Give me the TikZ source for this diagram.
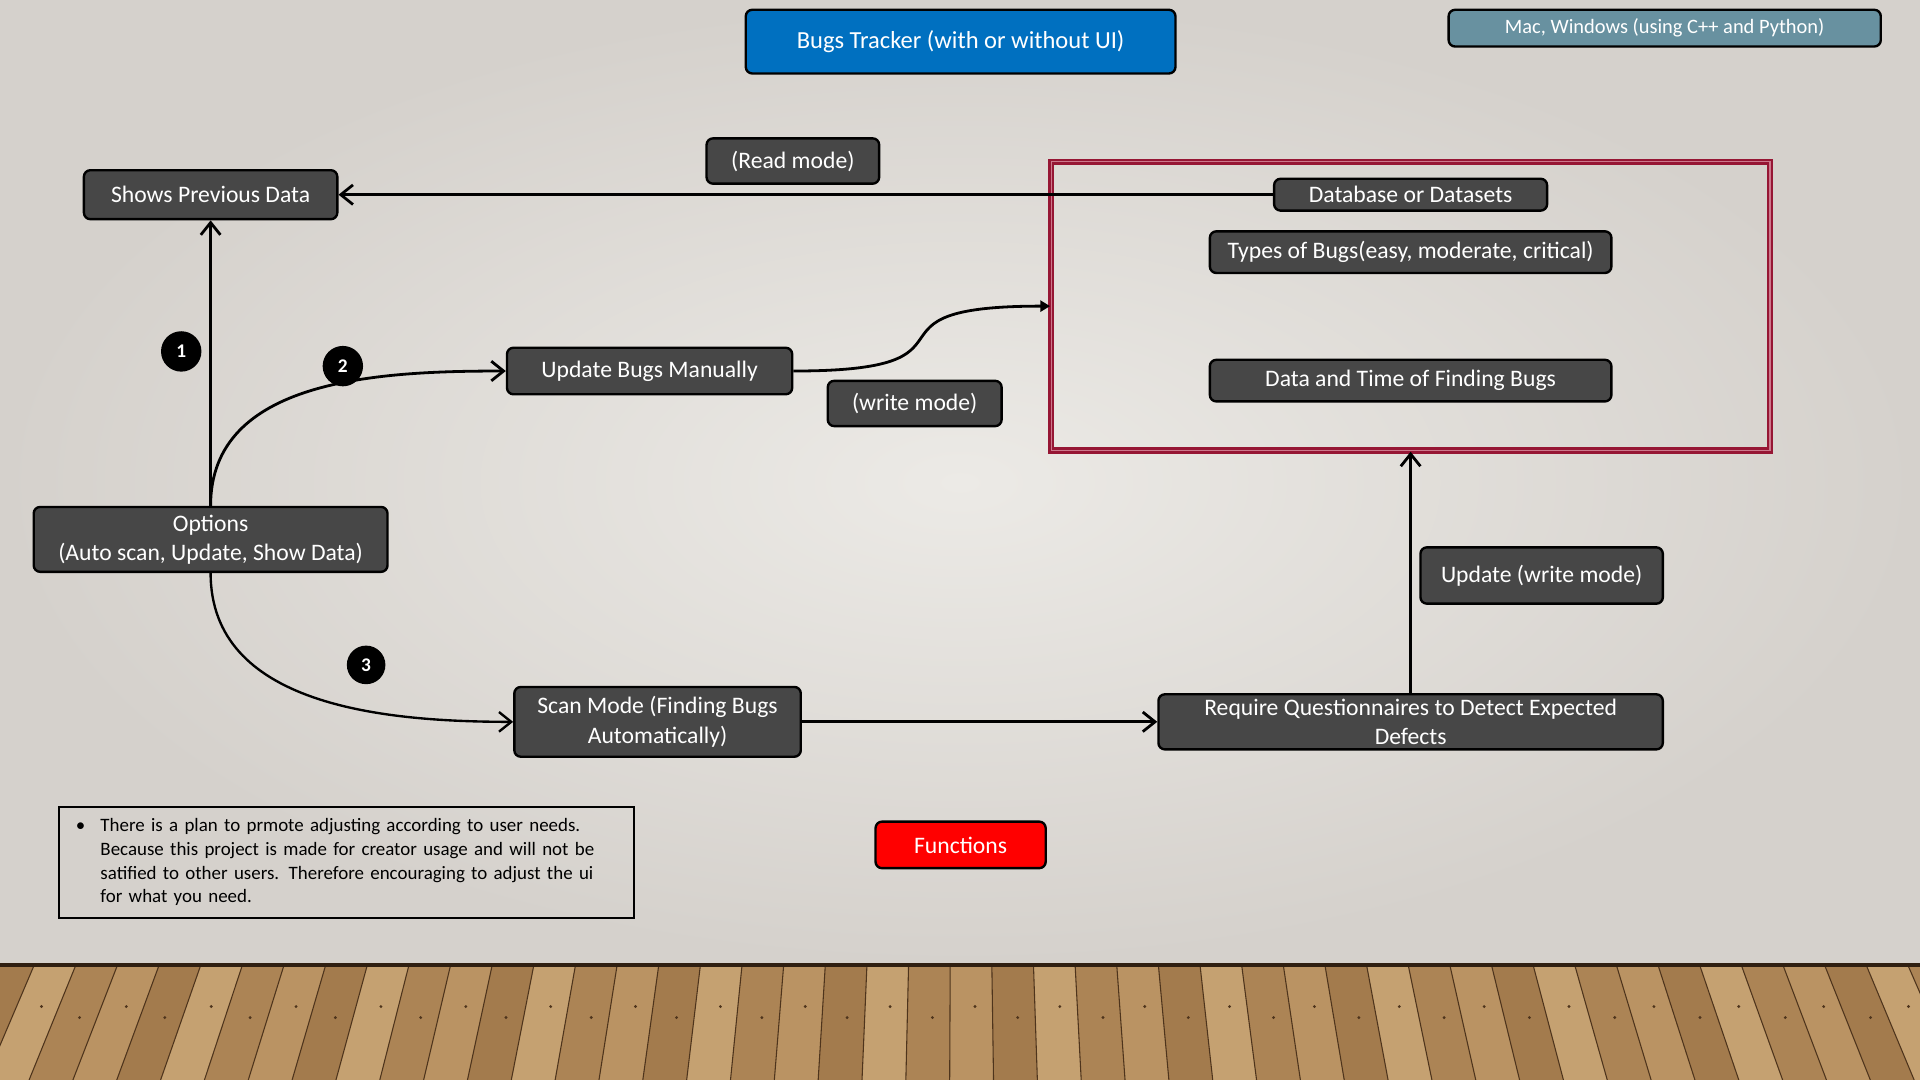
\documentclass[tikz,border=0pt]{standalone}
\usepackage{fontspec}
\setmainfont{Carlito}
\usetikzlibrary{shapes,arrows.meta,positioning}

\definecolor{boxgray}{RGB}{71,71,71}
\definecolor{titleblue}{RGB}{0,112,192}
\definecolor{platteal}{RGB}{104,145,160}
\definecolor{funcred}{RGB}{255,0,0}
\definecolor{dbred}{RGB}{150,22,52}
\definecolor{dbpink}{RGB}{205,120,140}
\definecolor{wallin}{RGB}{236,234,230}
\definecolor{wallout}{RGB}{213,209,204}
\definecolor{wood0}{RGB}{186,147,99}
\definecolor{wood1}{RGB}{172,132,85}
\definecolor{wood2}{RGB}{197,161,113}
\definecolor{wood3}{RGB}{163,123,77}
\definecolor{woodline}{RGB}{78,52,28}

\tikzset{
  darkbox/.style={rectangle, rounded corners=3pt, draw=black, line width=1.1pt,
    fill=boxgray, text=white, align=center, inner sep=0pt,
    font=\fontsize{11}{13.6}\selectfont},
  numdot/.style={circle, fill=black, text=white, minimum size=0.66cm,
    inner sep=0pt, font=\bfseries\fontsize{9}{10}\selectfont},
  link/.style={->, line width=1.3pt},
}

\begin{document}
\begin{tikzpicture}[x=0.02cm, y=-0.02cm, >={Straight Barb[length=2mm,width=3.2mm]}]
    \useasboundingbox (0,0) rectangle (1568,882);

    % Wall and floor
    \shade[inner color=wallin, outer color=wallout] (0,0) rectangle (1568,788);
    \foreach \k in {0,...,50}{
      \pgfmathsetmacro\xa{-40+34*\k}
      \pgfmathsetmacro\xb{\xa+34}
      \pgfmathtruncatemacro\tone{mod(\k*3,4)}
      \pgfmathsetmacro\nail{822+9*mod(\k,2)}
      \fill[wood\tone] (\xa,788) -- (\xb,788) -- ({784+(\xb-784)*1.053},882)
        -- ({784+(\xa-784)*1.053},882) -- cycle;
      \draw[woodline, line width=0.5pt] (\xa,788) -- ({784+(\xa-784)*1.053},882);
      \fill[woodline] ({784+(\xa+20-784)*(1+(\nail-788)*0.00056)},\nail) circle (1.3);
    }
    \draw[woodline!60!black, line width=1.6pt] (0,788) -- (1568,788);

    % Header nodes
    \node (title) [darkbox, fill=titleblue, minimum width=7.02cm, minimum height=1.04cm,
      font=\fontsize{11.4}{14}\selectfont] at (784.5,34) {Bugs Tracker (with or without UI)};
    \node (platform) [darkbox, fill=platteal, minimum width=7.06cm, minimum height=0.6cm,
      font=\fontsize{9.5}{11}\selectfont] at (1359.5,23) {Mac, Windows (using C++ and Python)};

    % Main nodes
    \node (shows) [darkbox, minimum width=4.14cm, minimum height=0.8cm] at (172,159) {Shows Previous Data};
    \node (options) [darkbox, minimum width=5.78cm, minimum height=1.06cm] at (172,440.5)
      {Options\\(Auto scan, Update, Show Data)};
    \node (manual) [darkbox, minimum width=4.66cm, minimum height=0.76cm] at (530.5,303) {Update Bugs Manually};
    \node (scan) [darkbox, minimum width=4.68cm, minimum height=1.14cm] at (537,589.5)
      {Scan Mode (Finding Bugs\\Automatically)};
    \node (require) [darkbox, minimum width=8.24cm, minimum height=0.9cm] at (1152,589.5)
      {Require Questionnaires to Detect Expected\\Defects};

    % Database box
    \node (dbbox) [rectangle, draw=dbred, double=dbpink, double distance=0.7pt, line width=1.1pt,
      minimum width=11.74cm, minimum height=4.72cm] at (1152,250) {};
    \node (db) [darkbox, minimum width=4.46cm, minimum height=0.52cm] at (1152,159) {Database or Datasets};
    \node (types) [darkbox, minimum width=6.56cm, minimum height=0.68cm, below=0.3cm of db]
      {Types of Bugs(easy, moderate, critical)};
    \node (datatime) [darkbox, minimum width=6.56cm, minimum height=0.68cm, below=1.38cm of types]
      {Data and Time of Finding Bugs};

    % Mode labels
    \node (readmode) [darkbox, minimum width=2.82cm, minimum height=0.74cm] at (647.5,131.5) {(Read mode)};
    \node (writemode) [darkbox, minimum width=2.84cm, minimum height=0.74cm] at (747,329.5) {(write mode)};
    \node (updwrite) [darkbox, minimum width=3.96cm, minimum height=0.92cm] at (1259,470) {Update (write mode)};

    % Numbered steps
    \node (one) [numdot] at (148,287) {1};
    \node (two) [numdot] at (280,299) {2};
    \node (three) [numdot, minimum size=0.63cm] at (299,543) {3};

    % Bottom nodes
    \node (functions) [darkbox, fill=funcred, minimum width=2.78cm, minimum height=0.76cm] at (784.5,690) {Functions};
    \node (note) [rectangle, draw=black, line width=1pt, minimum width=9.4cm, minimum height=1.82cm,
      text width=9cm, align=left, inner sep=0pt, font=\fontsize{8.8}{11}\selectfont] at (283,704.5)
      {\begin{tabular}{@{\hspace{0.08cm}}p{0.4cm}@{}l@{}}
        \textbullet & There is a plan to prmote adjusting according to user needs.\\
        & Because this project is made for creator usage and will not be\\
        & satified to other users. Therefore encouraging to adjust the ui\\
        & for what you need.
      \end{tabular}};

    % Connections
    \draw[link] (db) -- (shows);
    \draw[link] (options.north) -- (shows.south);
    \draw[link] (options.north) to[out=90, in=180] (manual.west);
    \draw[line width=1.3pt, -{Triangle[length=1.6mm,width=1.8mm]}] (manual.east) to[out=0, in=180, looseness=2] (dbbox.west);
    \draw[link, line width=1.1pt] (options.south) to[out=-90, in=180] (scan.west);
    \draw[link] (scan) -- (require);
    \draw[link] (require.north) -- (dbbox.south);
\end{tikzpicture}
\end{document}
